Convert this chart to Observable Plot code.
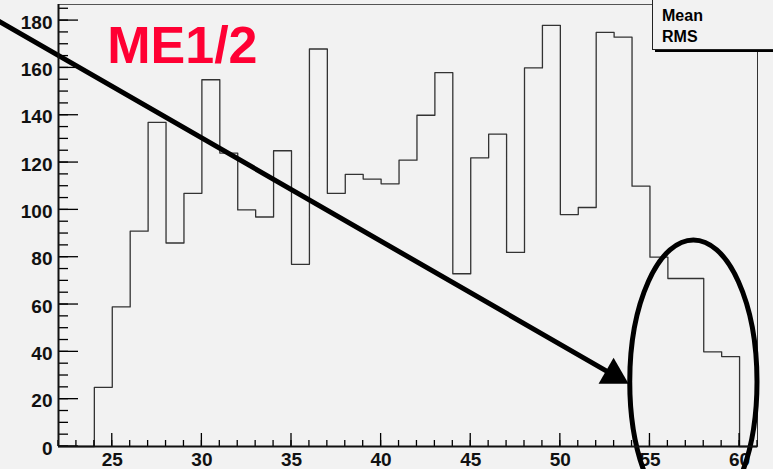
<!DOCTYPE html>
<html><head><meta charset="utf-8">
<script src="https://cdn.jsdelivr.net/npm/d3@7"></script>
<script src="https://cdn.jsdelivr.net/npm/@observablehq/plot@0.6"></script>
<style>
html,body{margin:0;padding:0;background:#f2f2f2;}
#chart{width:773px;height:469px;overflow:hidden;}
svg{display:block}
</style></head><body><div id="chart"></div>
<script>
// Histogram bins (left edges, width 1) and counts
const binLow = [24,25,26,27,28,29,30,31,32,33,34,35,36,37,38,39,40,41,42,43,44,45,46,47,48,49,50,51,52,53,54,55,56,57,58,59];
const counts = [25,59,91,137,86,107,155,124,100,97,125,77,168,107,115,113,111,121,140,158,73,122,132,82,160,178,98,101,175,173,110,80,71,71,40,38];
const binEnd = 60;

// Axis ticks
const xMajor = [25,30,35,40,45,50,55,60];
const xMinor = d3.range(22, 62, 1);
const yMajor = [0,20,40,60,80,100,120,140,160,180];
const yMinor = d3.range(0, 186, 5);
const xDomain = [22, 61];
const yDomain = [0, 186.8];

// Annotations
const titleText = ["ME1/2"];
const titlePos = {x: 24.72, y: 169.2};
const arrowLine = [{x: 18.2, y: 181.8}, {x: 52.97, y: 30.18}];
const arrowHead = [{x: 52.97, y: 30.18, angle: 120}];
const ellipseAnn = {cx: 57.45, cy: 27.2, rx: 3.55, ry: 59.9};
const statsLabels = ["Mean", "RMS"];

const W = 773, H = 469, mL = 58, mR = 16, mT = 4, mB = 23;

const points = [{x: xDomain[0], y: 0}]
  .concat(binLow.map((x, i) => ({x, y: counts[i]})))
  .concat([{x: binEnd, y: 0}, {x: xDomain[1], y: 0}]);

const font = "'Liberation Sans', Arial, Helvetica, sans-serif";

// inward tick marks drawn through the plot's scales
const tickMark = (index, scales) => {
  const g = d3.create("svg:g").attr("stroke", "#000").attr("stroke-width", 1.3);
  const y0 = scales.y(0), x0 = scales.x(xDomain[0]);
  const addX = (vals, len) => vals.forEach(v => {
    const x = scales.x(v);
    g.append("line").attr("x1", x).attr("x2", x).attr("y1", y0).attr("y2", y0 - len);
  });
  const addY = (vals, len) => vals.forEach(v => {
    const y = scales.y(v);
    g.append("line").attr("x1", x0).attr("x2", x0 + len).attr("y1", y).attr("y2", y);
  });
  addX(xMinor, 6); addX(xMajor, 13);
  addY(yMinor, 10); addY(yMajor, 20);
  return g.node();
};

const ellipseMark = (index, scales) => {
  const cx = scales.x(ellipseAnn.cx), cy = scales.y(ellipseAnn.cy);
  const rx = scales.x(ellipseAnn.cx + ellipseAnn.rx) - cx;
  const ry = cy - scales.y(ellipseAnn.cy + ellipseAnn.ry);
  return d3.create("svg:ellipse")
    .attr("cx", cx).attr("cy", cy).attr("rx", rx).attr("ry", ry)
    .attr("fill", "none").attr("stroke", "#000").attr("stroke-width", 5).node();
};

const statsMark = () => {
  const g = d3.create("svg:g");
  const x0 = W - 121, w = 130, h = 49;
  g.append("rect").attr("x", x0 + 3).attr("y", -3).attr("width", w).attr("height", h + 6).attr("fill", "#000");
  g.append("rect").attr("x", x0 + 0.5).attr("y", -3).attr("width", w).attr("height", h + 3.5)
    .attr("fill", "#f2f2f2").attr("stroke", "#222").attr("stroke-width", 1);
  g.selectAll("text").data(statsLabels).join("text")
    .attr("x", x0 + 10).attr("y", (d, i) => 20.5 + i * 21.5)
    .attr("text-anchor", "start")
    .attr("font-family", font).attr("font-weight", "bold").attr("font-size", 16)
    .attr("fill", "#000").text(d => d);
  return g.node();
};

const chart = Plot.plot({
  width: W, height: H,
  marginLeft: mL, marginRight: mR, marginTop: mT, marginBottom: mB,
  x: {domain: xDomain},
  y: {domain: yDomain},
  style: {background: "#f2f2f2", fontFamily: font, overflow: "visible"},
  marks: [
    Plot.ruleY([yDomain[1]], {stroke: "#555", strokeWidth: 1}),
    Plot.ruleX([xDomain[1]], {stroke: "#333", strokeWidth: 1}),
    Plot.line(points, {x: "x", y: "y", curve: "step-after", stroke: "#333", strokeWidth: 1.3}),
    Plot.axisX(xMajor, {anchor: "bottom", tickSize: 0, tickPadding: 6, fontSize: 19, fontWeight: "bold", fill: "#111", label: null}),
    Plot.axisY(yMajor, {anchor: "left", tickSize: 0, tickPadding: 6, dy: 2, fontSize: 19, fontWeight: "bold", fill: "#111", label: null}),
    Plot.text(titleText, {x: () => titlePos.x, y: () => titlePos.y, text: d => d, textAnchor: "start", lineAnchor: "middle",
      fontSize: 52, fontWeight: "bold", fill: "#ff0033"}),
    Plot.line(arrowLine, {x: "x", y: "y", stroke: "#000", strokeWidth: 5}),
    Plot.dot(arrowHead, {x: "x", y: "y", symbol: "triangle", r: 11.14, rotate: "angle", fill: "#000", stroke: "none"}),
    ellipseMark,
    statsMark,
    tickMark,
    Plot.ruleX([xDomain[0]], {stroke: "#111", strokeWidth: 2}),
    Plot.ruleY([0], {stroke: "#111", strokeWidth: 2.2})
  ]
});
document.getElementById("chart").appendChild(chart);
</script>
</body></html>
